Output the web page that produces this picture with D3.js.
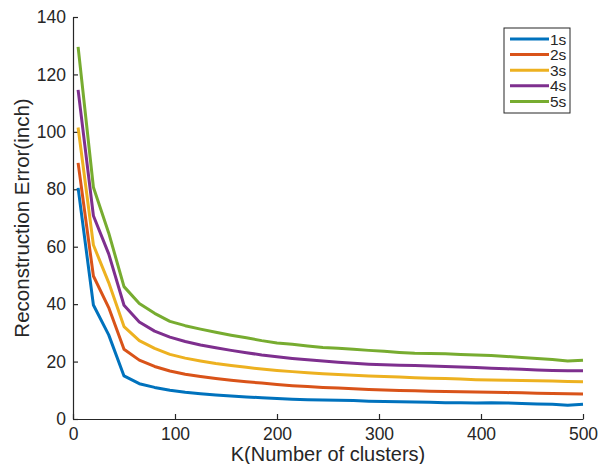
<!DOCTYPE html>
<html>
<head>
<meta charset="utf-8">
<script src="https://cdn.jsdelivr.net/npm/d3@7"></script>
<style>
  body { margin: 0; background: #fff; }
  svg { display: block; font-family: "Liberation Sans", Arial, sans-serif; }
</style>
</head>
<body>
<svg id="chart" width="607" height="464"></svg>
<script>
// Number of clusters K at which reconstruction error was measured
const kValues = [5, 20, 35, 50, 65, 80, 95, 110, 125, 140, 155, 170, 185, 200, 215, 230, 245,
                 260, 275, 290, 305, 320, 335, 350, 365, 380, 395, 410, 425, 440, 455, 470, 485, 500];

// Reconstruction error (inch) per prediction horizon
const err1s = [80.5, 39.7, 29.3, 15.0, 12.3, 11.0, 10.0, 9.3, 8.8, 8.4, 8.0, 7.7, 7.4, 7.1, 6.9, 6.7, 6.6,
               6.5, 6.4, 6.2, 6.1, 6.0, 5.9, 5.8, 5.7, 5.7, 5.6, 5.7, 5.6, 5.4, 5.2, 5.1, 4.8, 5.1];
const err2s = [89.2, 49.8, 38.8, 24.3, 20.5, 18.3, 16.7, 15.6, 14.8, 14.1, 13.5, 13.0, 12.5, 12.0, 11.6, 11.3, 11.0,
               10.8, 10.5, 10.3, 10.1, 9.9, 9.8, 9.7, 9.6, 9.5, 9.4, 9.3, 9.2, 9.1, 9.0, 8.9, 8.8, 8.7];
const err3s = [101.5, 60.6, 47.5, 32.2, 27.3, 24.6, 22.5, 21.2, 20.2, 19.3, 18.6, 18.0, 17.4, 16.9, 16.5, 16.1, 15.8,
               15.5, 15.2, 15.0, 14.8, 14.6, 14.4, 14.2, 14.1, 13.9, 13.7, 13.6, 13.5, 13.4, 13.3, 13.2, 13.1, 13.0];
const err4s = [114.6, 70.8, 57.5, 39.6, 33.8, 30.6, 28.5, 27.0, 25.8, 24.8, 23.9, 23.1, 22.3, 21.7, 21.1, 20.6, 20.2,
               19.8, 19.4, 19.1, 18.9, 18.7, 18.6, 18.5, 18.3, 18.1, 17.9, 17.7, 17.5, 17.3, 17.1, 16.9, 16.8, 16.8];
const err5s = [129.6, 80.7, 64.8, 46.1, 40.2, 36.8, 34.0, 32.5, 31.3, 30.2, 29.2, 28.3, 27.3, 26.5, 26.0, 25.4, 24.9,
               24.6, 24.3, 23.9, 23.6, 23.2, 22.9, 22.8, 22.7, 22.5, 22.3, 22.1, 21.8, 21.4, 21.1, 20.7, 20.2, 20.5];

const seriesNames = ["1s", "2s", "3s", "4s", "5s"];
const seriesValues = [err1s, err2s, err3s, err4s, err5s];
const seriesColors = ["#0072BD", "#D95319", "#EDB120", "#7E2F8E", "#77AC30"];

const xTicks = [0, 100, 200, 300, 400, 500];
const yTicks = [0, 20, 40, 60, 80, 100, 120, 140];

const svg = d3.select("#chart");
const margin = { left: 73, right: 24, top: 17, bottom: 45 };
const W = 607, H = 464;

const x = d3.scaleLinear().domain([0, 500]).range([margin.left, W - margin.right]);
const y = d3.scaleLinear().domain([0, 140]).range([H - margin.bottom, margin.top]);

const axisColor = "#262626";

// Axes with inward ticks
const xAxis = svg.append("g")
  .attr("transform", `translate(0,${y(0)})`)
  .call(d3.axisBottom(x).tickValues(xTicks).tickSizeInner(-5).tickSizeOuter(0).tickPadding(9));
const yAxis = svg.append("g")
  .attr("transform", `translate(${x(0)},0)`)
  .call(d3.axisLeft(y).tickValues(yTicks).tickSizeInner(-5).tickSizeOuter(0).tickPadding(7));

[xAxis, yAxis].forEach(g => {
  g.select(".domain").attr("stroke", axisColor).attr("stroke-width", 1.2);
  g.selectAll(".tick line").attr("stroke", axisColor).attr("stroke-width", 1.2);
  g.selectAll(".tick text").attr("fill", axisColor).style("font-size", "17.5px")
    .style("font-family", "'Liberation Sans', Arial, sans-serif");
});
xAxis.selectAll(".tick text").attr("dy", "0.68em");

// Axis titles
svg.append("text")
  .attr("x", (x(0) + x(500)) / 2)
  .attr("y", 461)
  .attr("text-anchor", "middle")
  .attr("fill", axisColor)
  .style("font-size", "20px")
  .text("K(Number of clusters)");

svg.append("text")
  .attr("transform", `translate(29,${(y(0) + y(140)) / 2}) rotate(-90)`)
  .attr("text-anchor", "middle")
  .attr("fill", axisColor)
  .style("font-size", "20.5px")
  .text("Reconstruction Error(inch)");

// Curves
const line = d3.line()
  .x((d, i) => x(kValues[i]))
  .y(d => y(d));

svg.append("g").selectAll("path")
  .data(seriesValues)
  .join("path")
  .attr("d", line)
  .attr("fill", "none")
  .attr("stroke", (d, i) => seriesColors[i])
  .attr("stroke-width", 3)
  .attr("stroke-linejoin", "round");

// Legend
const legend = svg.append("g").attr("transform", "translate(504,28)");
legend.append("rect")
  .attr("width", 66).attr("height", 85)
  .attr("fill", "#fff").attr("stroke", axisColor).attr("stroke-width", 1);
const rowH = 15.6;
const rows = legend.selectAll("g.row")
  .data(seriesNames)
  .join("g")
  .attr("class", "row")
  .attr("transform", (d, i) => `translate(0,${11 + i * rowH})`);
rows.append("line")
  .attr("x1", 6).attr("x2", 45)
  .attr("stroke", (d, i) => seriesColors[i])
  .attr("stroke-width", 3);
rows.append("text")
  .attr("x", 46).attr("y", 0)
  .attr("dy", "0.36em")
  .attr("fill", axisColor)
  .style("font-size", "15.5px")
  .text(d => d);
</script>
</body>
</html>
